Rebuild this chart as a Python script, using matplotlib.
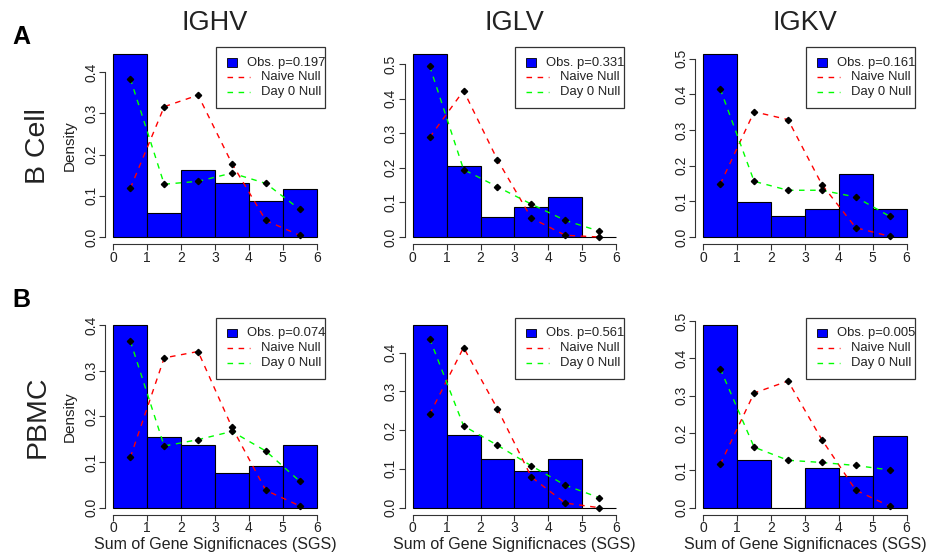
import numpy as np
import matplotlib
matplotlib.use('Agg')
import matplotlib.pyplot as plt
from matplotlib.patches import Rectangle
from matplotlib.lines import Line2D

plt.rcParams['font.family'] = ['Liberation Sans', 'DejaVu Sans']

# Bins of the SGS histogram and the bin midpoints used for the null curves
bin_edges = [0, 1, 2, 3, 4, 5, 6]
bin_mids = [0.5, 1.5, 2.5, 3.5, 4.5, 5.5]

genes = ['IGHV', 'IGLV', 'IGKV']
row_names = ['B Cell', 'PBMC']
row_letters = ['A', 'B']

# B cell panels (observed density, naive null, day 0 null)
obs_bcell = [
    [0.443, 0.058, 0.162, 0.132, 0.088, 0.117],
    [0.528, 0.205, 0.058, 0.087, 0.117, 0.0],
    [0.512, 0.098, 0.059, 0.078, 0.177, 0.078],
]
naive_bcell = [
    [0.118, 0.316, 0.344, 0.178, 0.040, 0.004],
    [0.288, 0.423, 0.223, 0.055, 0.005, 0.0],
    [0.148, 0.351, 0.329, 0.147, 0.026, 0.002],
]
day0_bcell = [
    [0.384, 0.128, 0.135, 0.155, 0.130, 0.067],
    [0.494, 0.195, 0.145, 0.095, 0.048, 0.017],
    [0.415, 0.156, 0.131, 0.131, 0.112, 0.058],
]
pvals_bcell = [0.197, 0.331, 0.161]

# PBMC panels
obs_pbmc = [
    [0.400, 0.154, 0.137, 0.077, 0.091, 0.137],
    [0.471, 0.188, 0.125, 0.094, 0.125, 0.0],
    [0.489, 0.127, 0.0, 0.106, 0.084, 0.191],
]
naive_pbmc = [
    [0.110, 0.328, 0.342, 0.176, 0.038, 0.004],
    [0.241, 0.413, 0.255, 0.079, 0.012, 0.0],
    [0.116, 0.307, 0.339, 0.182, 0.047, 0.004],
]
day0_pbmc = [
    [0.365, 0.135, 0.149, 0.167, 0.124, 0.058],
    [0.436, 0.211, 0.161, 0.108, 0.058, 0.026],
    [0.372, 0.162, 0.127, 0.121, 0.113, 0.101],
]
pvals_pbmc = [0.074, 0.561, 0.005]

TXT = '#222222'
AXC = '#333333'
DASH = (0, (4, 4))


def draw_legend(ax, pval):
    tr = ax.transAxes
    ax.add_patch(Rectangle((0.503, 0.691), 0.497, 0.309, transform=tr,
                           facecolor='white', edgecolor=AXC, lw=0.9,
                           clip_on=False, zorder=5))
    ax.add_patch(Rectangle((0.553, 0.900), 0.046, 0.043, transform=tr,
                           facecolor='#0000FF', edgecolor='black', lw=0.6,
                           clip_on=False, zorder=6))
    ax.add_line(Line2D([0.553, 0.659], [0.846, 0.846], transform=tr,
                       color='#FF0000', ls=DASH, lw=1, clip_on=False, zorder=6))
    ax.add_line(Line2D([0.553, 0.659], [0.770, 0.770], transform=tr,
                       color='#00FF00', ls=DASH, lw=1, clip_on=False, zorder=6))
    kw = dict(transform=tr, va='center', ha='left', fontsize=9.4,
              color=TXT, zorder=7)
    ax.text(0.645, 0.920, f'Obs. p={pval:.3f}', **kw)
    ax.text(0.710, 0.846, 'Naive Null', **kw)
    ax.text(0.710, 0.770, 'Day 0 Null', **kw)


def draw_panel(ax, obs, naive, day0, pval):
    ax.bar(bin_edges[:-1], obs, width=1, align='edge', color='#0000FF',
           edgecolor='black', lw=0.8, zorder=2)
    ax.plot(bin_mids, naive, color='#FF0000', ls=DASH, lw=1, zorder=3)
    ax.plot(bin_mids, day0, color='#00FF00', ls=DASH, lw=1, zorder=3)
    ax.plot(bin_mids, naive, 'D', color='black', ms=3.2, zorder=4)
    ax.plot(bin_mids, day0, 'D', color='black', ms=3.2, zorder=4)

    top = max(max(obs), max(naive), max(day0))
    ax.set_xlim(-0.24, 6.24)
    ax.set_ylim(-0.04 * top, 1.04 * top)
    yt = np.arange(0, 1.04 * top + 1e-9, 0.1)
    ax.set_yticks(yt)
    ax.set_yticklabels([f'{v:.1f}' for v in yt])
    ax.set_xticks(range(7))

    for s in ['top', 'right']:
        ax.spines[s].set_visible(False)
    ax.spines['left'].set_bounds(0, yt[-1])
    ax.spines['bottom'].set_bounds(0, 6)
    for s in ['left', 'bottom']:
        ax.spines[s].set_color(AXC)
        ax.spines[s].set_linewidth(0.8)
    ax.tick_params(direction='out', length=4, width=0.8, colors=AXC,
                   labelcolor=TXT, labelsize=10)
    ax.tick_params(axis='x', pad=0.5)
    ax.tick_params(axis='y', pad=1, labelrotation=90)
    for lab in ax.get_yticklabels():
        lab.set_va('center')
    draw_legend(ax, pval)


fig = plt.figure(figsize=(9.28, 5.57), dpi=100)
col_left = [0.1134, 0.436, 0.7491]
row_bottom = [0.5614, 0.0754]
ax_w, ax_h = 0.2366, 0.3542

all_obs = [obs_bcell, obs_pbmc]
all_naive = [naive_bcell, naive_pbmc]
all_day0 = [day0_bcell, day0_pbmc]
all_p = [pvals_bcell, pvals_pbmc]

for r in range(2):
    for c in range(3):
        ax = fig.add_axes([col_left[c], row_bottom[r], ax_w, ax_h])
        draw_panel(ax, all_obs[r][c], all_naive[r][c], all_day0[r][c],
                   all_p[r][c])
        if r == 0:
            ax.set_title(genes[c], fontsize=19.5, pad=12, color=TXT)
        else:
            xc = col_left[c] + ax_w / 2
            fig.text(xc, 1 - 545 / 557, 'Sum of Gene Significnaces (SGS)',
                     ha='center', va='center', fontsize=11.5, color=TXT)
        if c == 0:
            yc = row_bottom[r] + ax_h / 2
            fig.text(69.5 / 928, yc, 'Density', rotation=90, ha='center',
                     va='center', fontsize=11, color=TXT)
            fig.text(38 / 928, yc, row_names[r], rotation=90, ha='center',
                     va='center', fontsize=20.5, color=TXT)

fig.text(21 / 928, 1 - 37.5 / 557, 'A', ha='center', va='center',
         fontsize=18, fontweight='bold', color='black')
fig.text(21 / 928, 1 - 300 / 557, 'B', ha='center', va='center',
         fontsize=18, fontweight='bold', color='black')

fig.savefig('out.png', dpi=100)
